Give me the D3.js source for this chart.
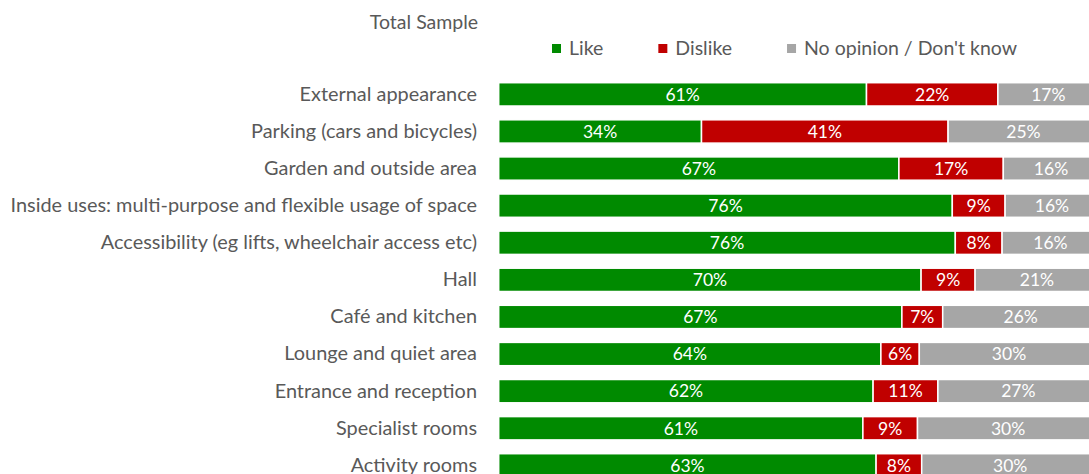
<!DOCTYPE html>
<html>
<head>
<meta charset="utf-8">
<script src="https://cdn.jsdelivr.net/npm/d3@7/dist/d3.min.js"></script>
<style>
  body { margin: 0; background: #fff; }
</style>
</head>
<body>
<div id="chart"></div>
<script>
// 数据
const categories = [
    'External appearance',
    'Parking (cars and bicycles)',
    'Garden and outside area',
    'Inside uses: multi-purpose and flexible usage of space',
    'Accessibility (eg lifts, wheelchair access etc)',
    'Hall',
    'Café and kitchen',
    'Lounge and quiet area',
    'Entrance and reception',
    'Specialist rooms',
    'Activity rooms'
];
const like      = [61.3, 33.8, 66.7, 75.6, 76.1, 70.4, 67.2, 63.7, 62.4, 60.7, 62.9];
const dislike   = [21.9, 41.1, 17.4,  8.8,  7.8,  9.0,  6.8,  6.4, 10.8,  9.1,  7.6];
const noOpinion = [16.8, 25.1, 15.9, 15.6, 16.1, 20.6, 26.0, 29.9, 26.8, 30.2, 29.5];
const seriesKeys = ['Like', 'Dislike', "No opinion / Don't know"];
const colors = ['#008A00', '#C00000', '#A6A6A6'];
const title = 'Total Sample';

const width = 1089, height = 474;
const font = 'Lato, "Open Sans", sans-serif';
const textColor = '#595959';

const svg = d3.select('#chart')
    .append('svg')
    .attr('width', width)
    .attr('height', height)
    .style('font-family', font);

const x = d3.scaleLinear().domain([0, 100]).range([498.7, 1098.7]);
const y = d3.scaleBand()
    .domain(categories)
    .range([75.8, 75.8 + 37.1 * categories.length])
    .paddingInner(0.372)
    .paddingOuter(0.186);
const color = d3.scaleOrdinal().domain(seriesKeys).range(colors);

const rows = categories.map((c, i) => ({
    category: c,
    [seriesKeys[0]]: like[i],
    [seriesKeys[1]]: dislike[i],
    [seriesKeys[2]]: noOpinion[i]
}));
const stacked = d3.stack().keys(seriesKeys)(rows);

// 标题
svg.append('text')
    .attr('x', 424)
    .attr('y', 29)
    .attr('text-anchor', 'middle')
    .attr('font-size', '19.5px')
    .attr('fill', textColor)
    .text(title);

// 图例
const legend = svg.append('g').attr('class', 'legend');
let lx = 552;
seriesKeys.forEach(k => {
    const item = legend.append('g').attr('transform', `translate(${lx},0)`);
    item.append('rect')
        .attr('x', 0).attr('y', 44)
        .attr('width', 9).attr('height', 9)
        .attr('fill', color(k));
    const t = item.append('text')
        .attr('x', 17).attr('y', 55)
        .attr('font-size', '19.5px')
        .attr('fill', textColor)
        .text(k);
    lx += 17 + t.node().getComputedTextLength() + 55;
});

// 类别轴
const yAxisG = svg.append('g')
    .attr('transform', `translate(${x(0)},0)`)
    .call(d3.axisLeft(y).tickSize(0).tickPadding(21.7));
yAxisG.select('.domain').remove();
yAxisG.selectAll('text')
    .attr('font-size', '19.9px')
    .attr('font-family', font)
    .attr('fill', textColor);

// 条形
const layer = svg.append('g').selectAll('g')
    .data(stacked)
    .join('g')
    .attr('fill', d => color(d.key));

layer.selectAll('rect')
    .data(d => d.map(v => ({ v, key: d.key })))
    .join('rect')
    .attr('x', d => x(d.v[0]))
    .attr('y', d => y(d.v.data.category))
    .attr('width', d => x(d.v[1]) - x(d.v[0]))
    .attr('height', y.bandwidth())
    .attr('stroke', '#fff')
    .attr('stroke-width', 1.5);

layer.selectAll('text')
    .data(d => d.map(v => ({ v, key: d.key })))
    .join('text')
    .attr('x', d => (x(d.v[0]) + x(d.v[1])) / 2)
    .attr('y', d => y(d.v.data.category) + y.bandwidth() / 2)
    .attr('dy', '0.36em')
    .attr('text-anchor', 'middle')
    .attr('font-size', '17.5px')
    .attr('fill', '#fff')
    .text(d => `${Math.round(d.v[1] - d.v[0])}%`);
</script>
</body>
</html>
